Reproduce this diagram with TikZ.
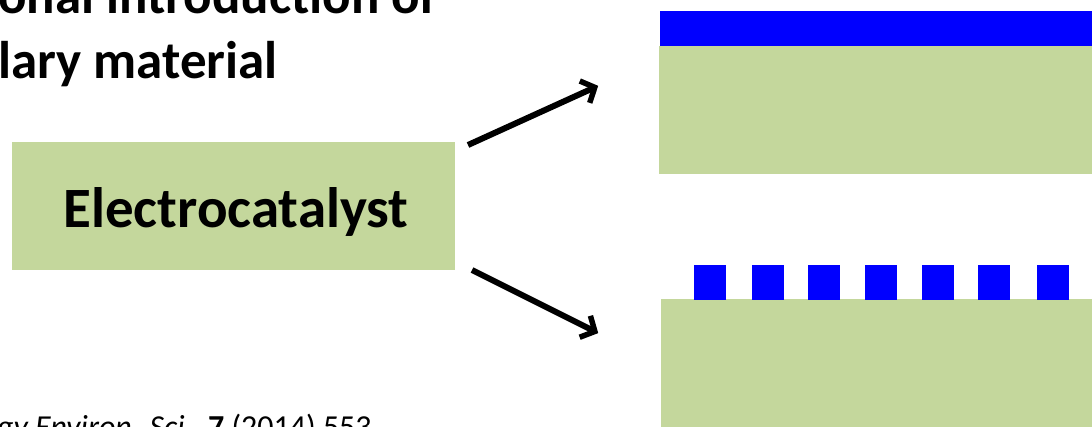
\documentclass[tikz,border=0pt]{standalone}
\usepackage{fontspec}
\setmainfont{Carlito}
\usetikzlibrary{arrows.meta}
\definecolor{boxgreen}{HTML}{C4D79C}
\definecolor{layerblue}{HTML}{0000FF}
\tikzset{
  greenbox/.style={fill=boxgreen, draw=none},
  bluebox/.style={fill=layerblue, draw=none},
  flow/.style={line width=6pt, -{Straight Barb[length=11pt,width=24pt,line width=5.5pt]}, shorten >=2pt},
  titletext/.style={font=\bfseries\fontsize{53}{62}\selectfont, inner sep=0pt},
}
\begin{document}
\begin{tikzpicture}[x=1pt,y=-1pt]
\useasboundingbox (0,0) rectangle (1092,426);
\clip (0,0) rectangle (1092,426);
% title fragments
\node[titletext, anchor=base west] (t1) at (-2,13) {onal introduction of};
\node[titletext, anchor=base west] (t2) at (-2,78) {lary material};
% electrocatalyst box
\node[greenbox, minimum width=443pt, minimum height=128pt, anchor=north west, inner sep=0pt] (ec) at (12,142) {};
\node[font=\bfseries\fontsize{57}{68}\selectfont, inner sep=0pt, anchor=base] (ect) at (236,227) {Electrocatalyst};
% top: continuous film
\node[greenbox, minimum width=433pt, minimum height=128pt, anchor=north west, inner sep=0pt] (sub1) at (659,46) {};
\node[bluebox, minimum width=432pt, minimum height=35pt, anchor=south west, inner sep=0pt] (film) at (660,46) {};
% bottom: particles
\node[greenbox, minimum width=431pt, minimum height=128pt, anchor=north west, inner sep=0pt] (sub2) at (661,299) {};
\foreach \i/\x in {1/694,2/752,3/808,4/865,5/922,6/978,7/1037}{
  \node[bluebox, minimum width=32pt, minimum height=35pt, anchor=south west, inner sep=0pt] (p\i) at (\x,300) {};
}
% arrows
\coordinate (a1s) at (468,145);
\coordinate (a1e) at (600,85);
\coordinate (a2s) at (472,270);
\coordinate (a2e) at (600,334);
\draw[flow] (a1s) -- (a1e);
\draw[flow] (a2s) -- (a2e);
% reference
\node[font=\fontsize{32}{38}\selectfont, inner sep=0pt, anchor=base west] (ref) at (-3,437) {\itshape gy Environ. Sci.\/\upshape, \textbf{7} (2014) 553};
\end{tikzpicture}
\end{document}
